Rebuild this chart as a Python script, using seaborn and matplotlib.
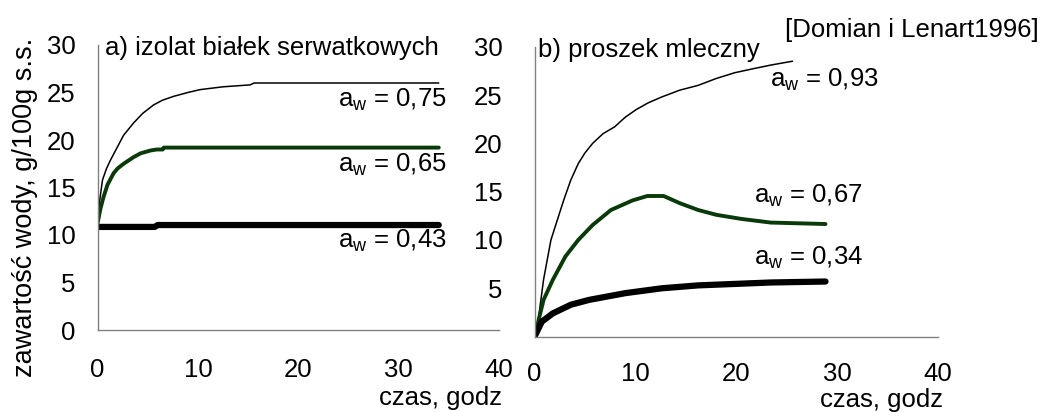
import matplotlib
matplotlib.use("Agg")
import matplotlib.pyplot as plt
import seaborn as sns
import pandas as pd

# ---------------- data ----------------
# panel a) izolat białek serwatkowych
a_t_075 = [0, 0.2, 0.5, 0.9, 1.3, 2.0, 2.6, 3.6, 4.5, 5.6, 6.5, 7.6, 9.0, 10.2, 12.5, 15.2, 15.6, 20, 25, 30, 34]
a_y_075 = [11.2, 13.5, 15.8, 17.0, 17.9, 19.3, 20.5, 21.8, 22.8, 23.7, 24.2, 24.6, 25.0, 25.3, 25.6, 25.8, 26.0, 26.0, 26.0, 26.0, 26.0]
a_t_065 = [0, 0.3, 0.6, 1.0, 1.6, 2.0, 2.6, 3.6, 4.3, 5.3, 5.9, 6.5, 6.6, 10, 20, 30, 34]
a_y_065 = [11.2, 12.8, 14.0, 15.3, 16.5, 17.0, 17.5, 18.2, 18.6, 18.9, 19.0, 19.0, 19.2, 19.2, 19.2, 19.2, 19.2]
a_t_043 = [0, 5.7, 6.0, 34]
a_y_043 = [10.85, 10.85, 11.05, 11.05]

# panel b) proszek mleczny
b_t_093 = [0, 0.37, 0.9, 1.63, 2.89, 3.6, 4.34, 5.0, 5.77, 6.8, 7.94, 9.0, 10.1, 11.3, 12.63, 14.4, 16.24, 18.0, 19.84, 21.6, 23.45, 25.6]
b_y_093 = [0, 1.7, 5.9, 10.0, 14.1, 16.2, 17.9, 19.0, 20.0, 21.0, 21.7, 22.7, 23.5, 24.2, 24.8, 25.5, 26.0, 26.7, 27.3, 27.7, 28.1, 28.5]
b_t_067 = [0, 0.9, 1.81, 3.07, 4.34, 5.77, 7.58, 9.74, 11.19, 12.81, 14.43, 16.24, 18.05, 20.57, 23.45, 28.87]
b_y_067 = [0, 3.8, 5.86, 8.3, 10.0, 11.55, 13.1, 14.1, 14.55, 14.55, 13.8, 13.1, 12.6, 12.17, 11.8, 11.65]
b_t_034 = [0, 0.73, 1.81, 3.61, 5.42, 9.03, 12.63, 16.24, 19.84, 23.45, 28.87]
b_y_034 = [0, 1.55, 2.4, 3.3, 3.8, 4.5, 5.0, 5.3, 5.45, 5.6, 5.7]

x_ticks = [0, 10, 20, 30, 40]
x_ticklabels = ["0", "10", "20", "30", "40"]
y_ticks = [0, 5, 10, 15, 20, 25, 30]
a_y_ticklabels = ["0", "5", "10", "15", "20", "25", "30"]
b_y_ticklabels = ["", "5", "10", "15", "20", "25", "30"]

a_labels = ["0,75", "0,65", "0,43"]
b_labels = ["0,93", "0,67", "0,34"]

title_a = "a) izolat białek serwatkowych"
title_b = "b) proszek mleczny"
source = "[Domian i Lenart1996]"
ylabel = "zawartość wody, g/100g s.s."
xlabel = "czas, godz"

# ---------------- style ----------------
sns.set_style("white")
plt.rcParams["font.family"] = ["Liberation Sans", "DejaVu Sans"]
plt.rcParams["mathtext.fontset"] = "custom"
plt.rcParams["mathtext.rm"] = "Liberation Sans"
plt.rcParams["mathtext.it"] = "Liberation Sans:italic"
plt.rcParams["text.color"] = "black"
plt.rcParams["xtick.labelcolor"] = "black"
plt.rcParams["ytick.labelcolor"] = "black"

W, H = 1050, 412
fig = plt.figure(figsize=(W / 100, H / 100), dpi=100)
fig.patch.set_facecolor("white")

GREEN = "#0a3a0a"
GRAY = "#808080"
FS = 18.5


def px_axes(x0, x1, ytop, ybot):
    return fig.add_axes([x0 / W, 1 - ybot / H, (x1 - x0) / W, (ybot - ytop) / H])


axA = px_axes(97.5, 499, 45, 330)
axB = px_axes(534.5, 937.7, 46.7, 336.6)

series_a = [(a_t_075, a_y_075, "black", 1.1),
            (a_t_065, a_y_065, GREEN, 2.8),
            (a_t_043, a_y_043, "black", 4.5)]
series_b = [(b_t_093, b_y_093, "black", 1.1),
            (b_t_067, b_y_067, GREEN, 2.8),
            (b_t_034, b_y_034, "black", 4.5)]

for ax, series in ((axA, series_a), (axB, series_b)):
    for t, y, c, lw in series:
        df = pd.DataFrame({"t": t, "y": y})
        sns.lineplot(data=df, x="t", y="y", ax=ax, color=c, linewidth=lw,
                     estimator=None, sort=False, solid_capstyle="round")
    ax.set_xlim(0, 40)
    ax.set_ylim(0, 30)
    ax.set_xlabel("")
    ax.set_ylabel("")
    ax.set_xticks(x_ticks)
    ax.set_xticklabels(x_ticklabels, fontsize=FS, color="black")
    ax.set_yticks(y_ticks)
    for s in ("top", "right"):
        ax.spines[s].set_visible(False)
    for s in ("left", "bottom"):
        ax.spines[s].set_color(GRAY)
        ax.spines[s].set_linewidth(1.0)
    ax.set_facecolor("none")

axA.set_yticklabels(a_y_ticklabels, fontsize=FS, color="black")
axB.set_yticklabels(b_y_ticklabels, fontsize=FS, color="black")
axA.tick_params(axis="x", direction="out", length=7, width=0.8, color=GRAY, labelcolor="black", pad=13)
axA.tick_params(axis="y", direction="out", length=7, width=0.8, color=GRAY, labelcolor="black", pad=9)
axB.tick_params(axis="x", direction="out", length=5, width=0.8, color=GRAY, labelcolor="black", pad=13)
axB.tick_params(axis="y", direction="out", length=7, width=0.8, color=GRAY, labelcolor="black", pad=16)

# curve labels
for (x, yb), lab in zip([(34.75, 23.5), (34.75, 16.7), (34.75, 8.6)], a_labels):
    axA.text(x, yb, r"a$_{\mathrm{w}}$ = " + lab, ha="right", va="baseline", fontsize=FS, color="black")
for (x, yb), lab in zip([(34.1, 25.9), (32.5, 13.8), (32.55, 7.4)], b_labels):
    axB.text(x, yb, r"a$_{\mathrm{w}}$ = " + lab, ha="right", va="baseline", fontsize=FS, color="black")

# titles
axA.text(0.75, 28.95, title_a, ha="left", va="baseline", fontsize=FS, color="black")
axB.text(0.38, 28.98, title_b, ha="left", va="baseline", fontsize=FS, color="black")
fig.text(785 / W, 1 - 36.7 / H, source, ha="left", va="baseline", fontsize=18.5, color="black")

# axis labels
fig.text(25 / W, 1 - 207 / H, ylabel, rotation=90, ha="center", va="center", fontsize=19.5, color="black")
fig.text(502 / W, 1 - 405 / H, xlabel, ha="right", va="baseline", fontsize=FS, color="black")
fig.text(943 / W, 1 - 407 / H, xlabel, ha="right", va="baseline", fontsize=FS, color="black")

fig.savefig("out.png", dpi=100, facecolor="white")
